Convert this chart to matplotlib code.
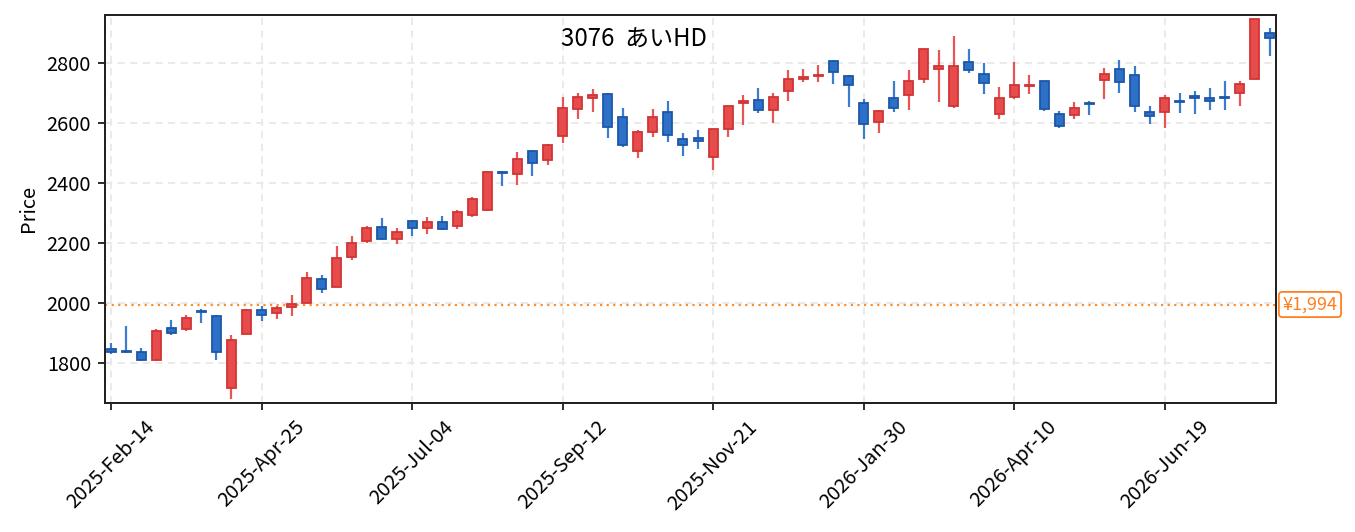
import numpy as np
import pandas as pd
import matplotlib
matplotlib.use('Agg')
import matplotlib.pyplot as plt
import matplotlib.transforms as mtransforms

plt.rcParams['font.family'] = ['Noto Sans CJK JP', 'DejaVu Sans']

title_str = '3076  あいHD'
ref_price = 1994

# weekly candles, one per Friday from 2025-02-14
dates = pd.date_range('2025-02-14', periods=78, freq='7D')

opens = [1846, 1840, 1834, 1808, 1916, 1911, 1971, 1956, 1717, 1895,
         1977, 1965, 1985, 1999, 2079, 2054, 2151, 2207, 2254, 2212,
         2274, 2248, 2270, 2255, 2294, 2308, 2437, 2429, 2505, 2476,
         2555, 2648, 2683, 2695, 2620, 2506, 2571, 2635, 2546, 2549,
         2485, 2578, 2667, 2678, 2643, 2705, 2746, 2755, 2807, 2758,
         2668, 2602, 2683, 2692, 2745, 2779, 2658, 2803, 2763, 2629,
         2685, 2722, 2739, 2630, 2626, 2667, 2742, 2780, 2761, 2637,
         2636, 2674, 2690, 2684, 2687, 2699, 2748, 2900]
highs = [1865, 1922, 1848, 1911, 1942, 1958, 1980, 1958, 1892, 1978,
         1988, 1988, 2025, 2102, 2092, 2188, 2222, 2255, 2282, 2248,
         2274, 2285, 2288, 2308, 2352, 2440, 2438, 2502, 2509, 2528,
         2686, 2699, 2712, 2701, 2649, 2576, 2646, 2672, 2565, 2576,
         2581, 2657, 2692, 2716, 2699, 2776, 2779, 2792, 2811, 2759,
         2679, 2642, 2739, 2776, 2848, 2842, 2889, 2846, 2799, 2719,
         2802, 2759, 2740, 2639, 2669, 2672, 2782, 2809, 2789, 2655,
         2692, 2700, 2706, 2716, 2739, 2739, 2948, 2916]
lows = [1829, 1831, 1807, 1807, 1893, 1906, 1933, 1808, 1679, 1894,
        1939, 1946, 1956, 1998, 2033, 2053, 2142, 2199, 2210, 2196,
        2224, 2229, 2243, 2246, 2286, 2307, 2389, 2392, 2422, 2460,
        2533, 2612, 2637, 2550, 2520, 2483, 2553, 2535, 2490, 2513,
        2444, 2553, 2593, 2633, 2599, 2673, 2737, 2737, 2731, 2653,
        2547, 2567, 2637, 2643, 2734, 2670, 2650, 2767, 2697, 2614,
        2680, 2696, 2640, 2583, 2613, 2627, 2681, 2701, 2637, 2597,
        2583, 2634, 2631, 2644, 2644, 2658, 2747, 2823]
closes = [1836, 1834, 1808, 1907, 1898, 1950, 1968, 1834, 1876, 1976,
          1958, 1981, 1995, 2082, 2045, 2149, 2199, 2250, 2211, 2236,
          2248, 2270, 2246, 2303, 2347, 2437, 2432, 2480, 2465, 2527,
          2650, 2687, 2694, 2585, 2525, 2571, 2620, 2558, 2527, 2540,
          2580, 2656, 2674, 2642, 2687, 2747, 2753, 2760, 2770, 2725,
          2595, 2641, 2651, 2741, 2847, 2789, 2790, 2776, 2733, 2684,
          2727, 2726, 2645, 2589, 2650, 2663, 2763, 2736, 2656, 2623,
          2684, 2671, 2684, 2673, 2683, 2730, 2947, 2882]

up_face, up_edge, up_wick = '#e84b4b', '#d03434', '#e85555'
dn_face, dn_edge, dn_wick = '#2d70c8', '#1d56a6', '#3a7cd2'

fig = plt.figure(figsize=(1355 / 144, 532 / 144), dpi=144)
ax = fig.add_axes([0.0775, 0.2434, 0.8642, 0.7284])

x = np.arange(len(dates))
o = np.array(opens)
h = np.array(highs)
l = np.array(lows)
c = np.array(closes)
up = c >= o

body_w = 0.6
for i in x:
    if up[i]:
        fc, ec, wc = up_face, up_edge, up_wick
    else:
        fc, ec, wc = dn_face, dn_edge, dn_wick
    ax.vlines(i, l[i], h[i], color=wc, linewidth=1.1, zorder=2)
    bottom = min(o[i], c[i])
    height = max(abs(c[i] - o[i]), 1.5)
    ax.bar(i, height, bottom=bottom, width=body_w, color=fc, edgecolor=ec,
           linewidth=0.9, zorder=3)

ax.axhline(ref_price, color='#ff8c2a', linestyle=(0, (1, 2)), linewidth=1.1, zorder=1)
trans = mtransforms.blended_transform_factory(ax.transAxes, ax.transData)
ax.text(1.0055, ref_price, '¥1,994', transform=trans, ha='left', va='center',
        fontsize=9, color='#ff7f1e',
        bbox=dict(boxstyle='round,pad=0.2', facecolor='white', edgecolor='#ff7f1e', linewidth=0.9))

ax.text(0.452, 0.935, title_str, transform=ax.transAxes, ha='center', va='center', fontsize=12)

tick_idx = list(range(0, len(dates), 10))
ax.set_xticks(tick_idx)
ax.set_xticklabels([dates[i].strftime('%Y-%b-%d') for i in tick_idx], rotation=45, fontsize=10)
ax.set_yticks([1800, 2000, 2200, 2400, 2600, 2800])
ax.tick_params(axis='y', labelsize=10)
ax.set_xlim(-0.4, 77.4)
ax.set_ylim(1667, 2960)
ax.set_ylabel('Price', fontsize=10)

ax.grid(True, linestyle=(0, (4, 3)), color='#e8e8e8', linewidth=0.9, zorder=0)
ax.set_axisbelow(True)
for s in ax.spines.values():
    s.set_linewidth(1.0)
    s.set_color('#222222')

fig.savefig('out.png', dpi=144)
